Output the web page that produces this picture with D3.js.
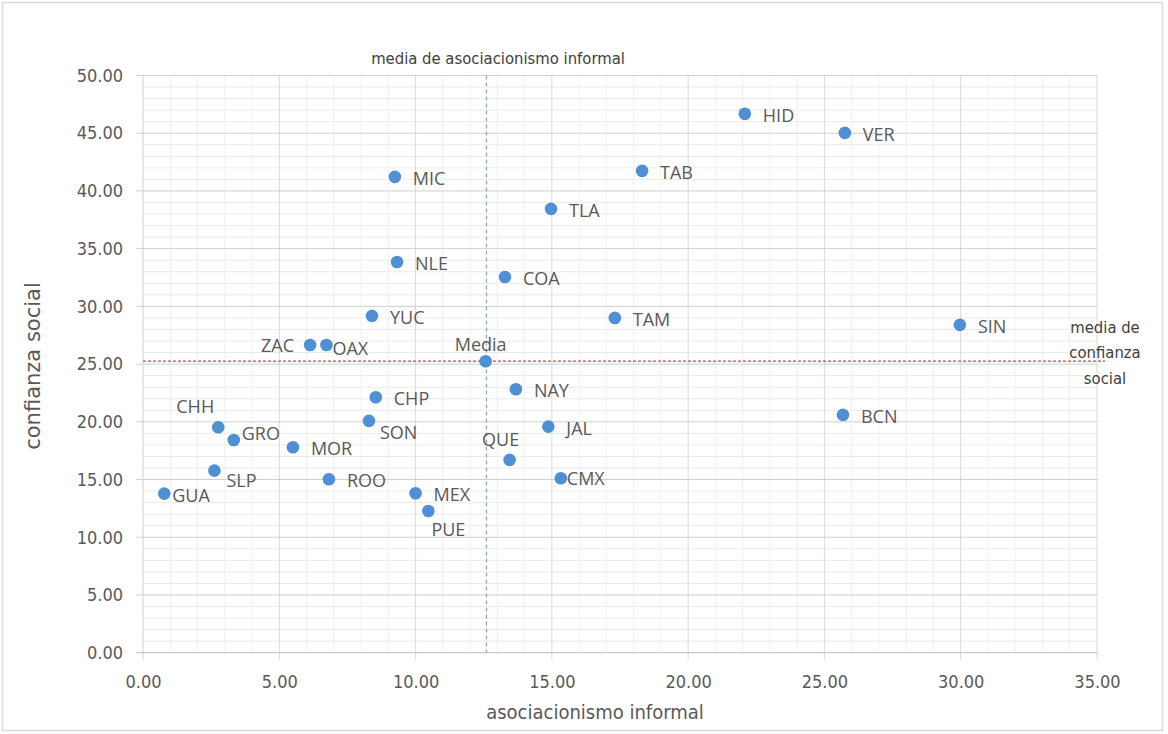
<!DOCTYPE html>
<html>
<head>
<meta charset="utf-8">
<script src="https://cdn.jsdelivr.net/npm/d3@7"></script>
<style>
  html, body { margin: 0; padding: 0; background: #fff; }
  svg { display: block; }
</style>
</head>
<body>
<svg id="chart" width="1168" height="734"></svg>
<script>
// ---- data ----
const states = ["HID","VER","TAB","MIC","TLA","NLE","COA","YUC","TAM","SIN","ZAC","OAX","Media","NAY","CHP","SON","CHH","GRO","MOR","QUE","SLP","ROO","GUA","MEX","PUE","JAL","CMX","BCN"];
const asociacionismo = [22.08,25.75,18.31,9.24,14.97,9.32,13.28,8.40,17.31,29.97,6.13,6.73,12.57,13.68,8.54,8.29,2.76,3.33,5.50,13.45,2.62,6.82,0.78,10.00,10.47,14.87,15.33,25.68];
const confianza = [46.68,45.03,41.74,41.22,38.45,33.85,32.55,29.18,29.00,28.40,26.66,26.66,25.25,22.82,22.13,20.08,19.53,18.43,17.80,16.70,15.77,15.03,13.78,13.81,12.28,19.58,15.11,20.60];
const xTicks = [0,5,10,15,20,25,30,35];
const yTicks = [0,5,10,15,20,25,30,35,40,45,50];
const mediaAsociacionismo = 12.6;
const mediaConfianza = 25.25;

// ---- label placement (styling) ----
const labelPlace = {
  GRO:[8,-7,"start"], SLP:[12,9,"start"], OAX:[6,3,"start"], SON:[11,11,"start"],
  GUA:[8,1,"start"], CMX:[6,0,"start"], ZAC:[-16,0,"end"], CHH:[-23,-21,"middle"],
  Media:[-5,-17,"middle"], QUE:[-9,-21,"middle"], PUE:[20,18,"middle"]
};
const defaultPlace = [18,1,"start"];

const svg = d3.select("#chart");
const m = {left:143, right:1097, top:75.5, bottom:652.7};

svg.append("rect").attr("x",2.5).attr("y",2.5).attr("width",1160).attr("height",728)
  .attr("fill","#fff").attr("stroke","#d9d9d9").attr("stroke-width",1.5);

const x = d3.scaleLinear().domain([0,35]).range([m.left,m.right]);
const y = d3.scaleLinear().domain([0,50]).range([m.bottom,m.top]);

const grid = svg.append("g");
grid.selectAll(".vmin").data(d3.range(1,35).filter(v=>v%5)).enter().append("line")
  .attr("x1",d=>x(d)).attr("x2",d=>x(d)).attr("y1",m.top).attr("y2",m.bottom)
  .attr("stroke","#f1f1f1").attr("stroke-width",1);
grid.selectAll(".hmin").data(d3.range(1,50).filter(v=>v%5)).enter().append("line")
  .attr("x1",m.left).attr("x2",m.right).attr("y1",d=>y(d)).attr("y2",d=>y(d))
  .attr("stroke","#ebebeb").attr("stroke-width",1);
grid.selectAll(".vmaj").data(xTicks.slice(1)).enter().append("line")
  .attr("x1",d=>x(d)).attr("x2",d=>x(d)).attr("y1",m.top).attr("y2",m.bottom+7)
  .attr("stroke","#dadada").attr("stroke-width",1);
grid.selectAll(".hmaj").data(yTicks.slice(1)).enter().append("line")
  .attr("x1",m.left-7).attr("x2",m.right).attr("y1",d=>y(d)).attr("y2",d=>y(d))
  .attr("stroke","#cfcfcf").attr("stroke-width",1);

svg.append("line").attr("x1",m.left).attr("x2",m.left).attr("y1",m.top).attr("y2",m.bottom+7)
  .attr("stroke","#d0d0d0");
svg.append("line").attr("x1",m.left-7).attr("x2",m.right).attr("y1",m.bottom).attr("y2",m.bottom)
  .attr("stroke","#bdbdbd");

const tickFont = "'Liberation Sans Narrow','Arial Narrow','DejaVu Sans Condensed',sans-serif";
const xAxis = svg.append("g").attr("transform",`translate(0,${m.bottom})`)
  .call(d3.axisBottom(x).tickValues(xTicks).tickFormat(d3.format(".2f")).tickSize(0).tickPadding(23));
xAxis.select(".domain").remove();
xAxis.selectAll("text").attr("font-family",tickFont).attr("font-size",18).attr("fill","#595959");
const yAxis = svg.append("g").attr("transform",`translate(${m.left},0)`)
  .call(d3.axisLeft(y).tickValues(yTicks).tickFormat(d3.format(".2f")).tickSize(0).tickPadding(20));
yAxis.select(".domain").remove();
yAxis.selectAll("text").attr("font-family",tickFont).attr("font-size",18).attr("fill","#595959");

svg.append("line").attr("x1",x(mediaAsociacionismo)).attr("x2",x(mediaAsociacionismo))
  .attr("y1",m.top).attr("y2",m.bottom)
  .attr("stroke","#8aa6cc").attr("stroke-width",1.3).attr("stroke-dasharray","4,3");
svg.append("line").attr("x1",m.left).attr("x2",m.right+8)
  .attr("y1",y(mediaConfianza)).attr("y2",y(mediaConfianza))
  .attr("stroke","#e0404a").attr("stroke-width",1.3).attr("stroke-dasharray","3,2");

const data = states.map((s,i)=>({name:s, x:asociacionismo[i], y:confianza[i]}));
svg.append("g").selectAll("circle").data(data).enter().append("circle")
  .attr("cx",d=>x(d.x)).attr("cy",d=>y(d.y)).attr("r",6.3).attr("fill","#4f8fd3");

const labelFont = "'Open Sans','Noto Sans',sans-serif";
svg.append("g").selectAll("text").data(data).enter().append("text")
  .attr("x",d=>x(d.x)+(labelPlace[d.name]||defaultPlace)[0])
  .attr("y",d=>y(d.y)+(labelPlace[d.name]||defaultPlace)[1])
  .attr("text-anchor",d=>(labelPlace[d.name]||defaultPlace)[2])
  .attr("dominant-baseline","central")
  .attr("font-family",labelFont).attr("font-size",18).attr("fill","#595959")
  .text(d=>d.name);

svg.append("text").attr("x",498).attr("y",58).attr("text-anchor","middle")
  .attr("dominant-baseline","central")
  .attr("font-family",tickFont).attr("font-size",16.5).attr("fill","#404040")
  .text("media de asociacionismo informal");
const ann = svg.append("text").attr("text-anchor","middle")
  .attr("font-family",tickFont).attr("font-size",16.5).attr("fill","#404040");
["media de","confianza","social"].forEach((t,i)=>{
  ann.append("tspan").attr("x",1105).attr("y",327+i*25.5).attr("dominant-baseline","central").text(t);
});

svg.append("text").attr("x",595).attr("y",712).attr("text-anchor","middle")
  .attr("dominant-baseline","central")
  .attr("font-family",tickFont).attr("font-size",20).attr("fill","#595959")
  .text("asociacionismo informal");
svg.append("text").attr("transform","translate(33,366) rotate(-90)").attr("text-anchor","middle")
  .attr("dominant-baseline","central")
  .attr("font-family","'DejaVu Sans',sans-serif").attr("font-size",21).attr("fill","#595959")
  .text("confianza social");
</script>
</body>
</html>
